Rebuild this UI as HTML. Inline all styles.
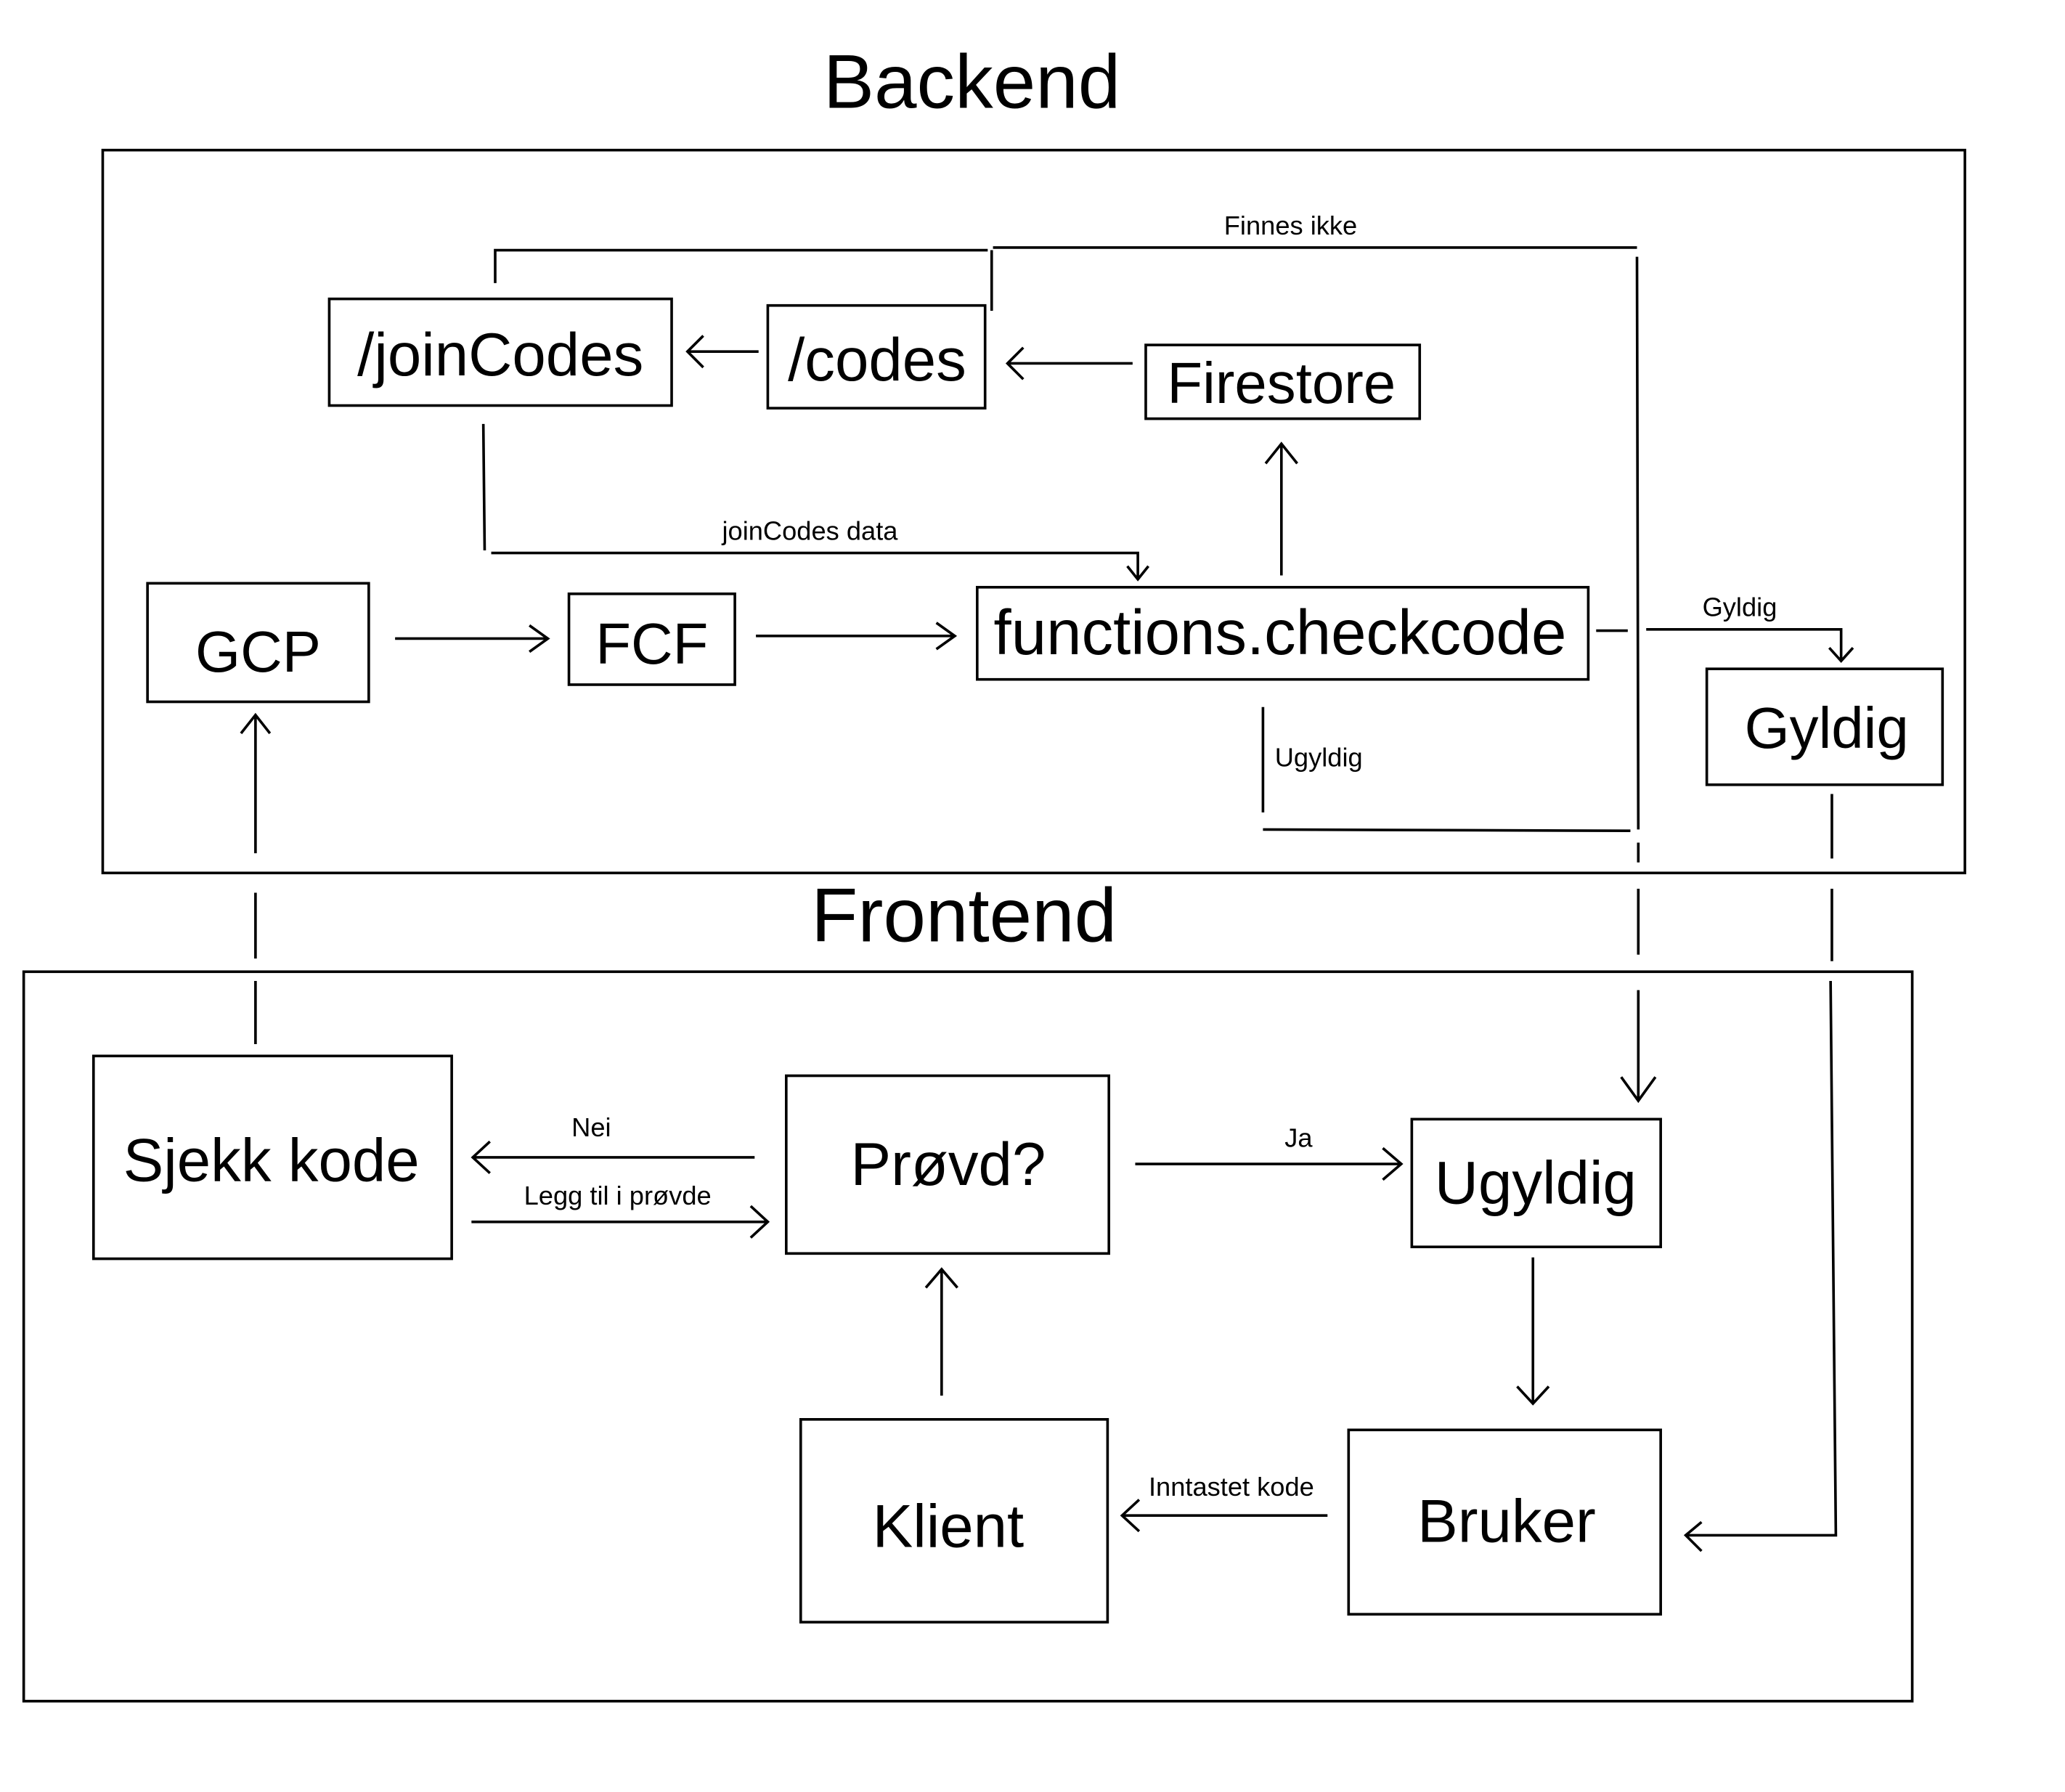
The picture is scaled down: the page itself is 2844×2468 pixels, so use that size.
<!DOCTYPE html>
<html><head><meta charset="utf-8">
<style>
html,body{margin:0;padding:0;background:#fff;}
svg{display:block;}
text{font-family:"Liberation Sans",sans-serif;fill:#000;}
</style></head>
<body>
<svg width="2844" height="2468" viewBox="0 0 1568 1361" preserveAspectRatio="none" xmlns="http://www.w3.org/2000/svg">
<rect width="1568" height="1361" fill="#fff"/>
<g fill="none" stroke="#000" stroke-width="2">
<rect x="78" y="114" width="1414" height="549"/>
<rect x="18" y="738" width="1434" height="554"/>
<rect x="250" y="227" width="260" height="81"/>
<rect x="583" y="232" width="165" height="78"/>
<rect x="870" y="262" width="208" height="56"/>
<rect x="112" y="443" width="168" height="90"/>
<rect x="432" y="451" width="126" height="69"/>
<rect x="742" y="446" width="464" height="70"/>
<rect x="1296" y="508" width="179" height="88"/>
<rect x="71" y="802" width="272" height="154"/>
<rect x="597" y="817" width="245" height="135"/>
<rect x="1072" y="850" width="189" height="97"/>
<rect x="608" y="1078" width="233" height="154"/>
<rect x="1024" y="1086" width="237" height="140"/>
<path d="M860 276H765M777 264L765 276L777 288"/>
<path d="M576 267H522M534 255L522 267L534 279"/>
<path d="M376 215V190H750M753 236V190M754 188H1243M1243 195L1244 630"/>
<path d="M1244 640V655M1244 675V725M1244 752V835M1231 818L1244 836L1257 818"/>
<path d="M367 322L368 418M373 420H864V440M856 430L864 440L872 430"/>
<path d="M300 485H415M402 475L416 485L402 495"/>
<path d="M574 483H724M711 473L725 483L711 493"/>
<path d="M973 437V337M961 352L973 337L985 352"/>
<path d="M1212 479H1236M1250 478H1398V502M1389 492L1398 502L1407 492"/>
<path d="M959 537V617M959 630L1238 631"/>
<path d="M1391 603V652M1391 675V730M1390 745L1394 1166H1280M1292 1156L1280 1166L1292 1178"/>
<path d="M194 648V543M183 557L194 543L205 557M194 678V728M194 745V793"/>
<path d="M573 879H359M372 867L359 879L372 891"/>
<path d="M358 928H583M570 916L583 928L570 940"/>
<path d="M862 884H1064M1050 872L1064 884L1050 896"/>
<path d="M1164 955V1066M1152 1053L1164 1066L1176 1053"/>
<path d="M1008 1151H852M865 1139L852 1151L865 1163"/>
<path d="M715 1060V964M703 978L715 964L727 978"/>
</g>
<g text-anchor="middle">
<text x="738" y="82" font-size="58">Backend</text>
<text x="732" y="715" font-size="58">Frontend</text>
<text x="380" y="285" font-size="46">/joinCodes</text>
<text x="666" y="289" font-size="46">/codes</text>
<text x="973" y="306" font-size="44">Firestore</text>
<text x="196" y="510" font-size="44">GCP</text>
<text x="495" y="504" font-size="44">FCF</text>
<text x="972" y="497" font-size="48">functions.checkcode</text>
<text x="1387" y="568" font-size="44">Gyldig</text>
<text x="206" y="897" font-size="46">Sjekk kode</text>
<text x="720" y="900" font-size="46">Prøvd?</text>
<text x="1166" y="914" font-size="46">Ugyldig</text>
<text x="720" y="1175" font-size="46">Klient</text>
<text x="1144" y="1171" font-size="46">Bruker</text>
<text x="980" y="178" font-size="20">Finnes ikke</text>
<text x="615" y="410" font-size="20">joinCodes data</text>
<text x="1321" y="468" font-size="20">Gyldig</text>
<text x="449" y="863" font-size="20">Nei</text>
<text x="469" y="915" font-size="20">Legg til i prøvde</text>
<text x="986" y="871" font-size="20">Ja</text>
<text x="935" y="1136" font-size="20">Inntastet kode</text>
</g>
<text x="968" y="582" font-size="20">Ugyldig</text>
</svg>
</body></html>
